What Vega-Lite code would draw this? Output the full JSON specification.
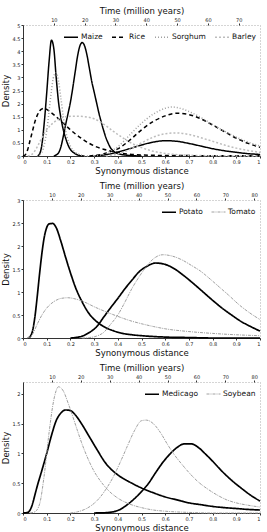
{
  "$schema": "https://vega.github.io/schema/vega-lite/v6.json",
  "padding": {"left": 0, "top": 5, "right": 7, "bottom": 1},
  "background": "white",
  "datasets": {
    "p1": [
      {"s":"Maize","c":1,"x":0.06,"y":0},{"s":"Maize","c":1,"x":0.07,"y":0.08},{"s":"Maize","c":1,"x":0.08,"y":0.45},{"s":"Maize","c":1,"x":0.09,"y":1.3},{"s":"Maize","c":1,"x":0.1,"y":2.4},{"s":"Maize","c":1,"x":0.11,"y":3.6},{"s":"Maize","c":1,"x":0.12,"y":4.42},{"s":"Maize","c":1,"x":0.13,"y":4.1},{"s":"Maize","c":1,"x":0.14,"y":3.0},{"s":"Maize","c":1,"x":0.15,"y":2.05},{"s":"Maize","c":1,"x":0.16,"y":1.45},{"s":"Maize","c":1,"x":0.17,"y":1.0},{"s":"Maize","c":1,"x":0.18,"y":0.68},{"s":"Maize","c":1,"x":0.19,"y":0.42},{"s":"Maize","c":1,"x":0.2,"y":0.25},{"s":"Maize","c":1,"x":0.22,"y":0.09},{"s":"Maize","c":1,"x":0.24,"y":0.02},{"s":"Maize","c":1,"x":0.26,"y":0},
      {"s":"Maize","c":2,"x":0.13,"y":0},{"s":"Maize","c":2,"x":0.14,"y":0.04},{"s":"Maize","c":2,"x":0.15,"y":0.12},{"s":"Maize","c":2,"x":0.16,"y":0.35},{"s":"Maize","c":2,"x":0.17,"y":0.75},{"s":"Maize","c":2,"x":0.18,"y":1.2},{"s":"Maize","c":2,"x":0.19,"y":1.62},{"s":"Maize","c":2,"x":0.2,"y":2.05},{"s":"Maize","c":2,"x":0.21,"y":2.6},{"s":"Maize","c":2,"x":0.22,"y":3.2},{"s":"Maize","c":2,"x":0.23,"y":3.8},{"s":"Maize","c":2,"x":0.24,"y":4.2},{"s":"Maize","c":2,"x":0.25,"y":4.33},{"s":"Maize","c":2,"x":0.26,"y":4.2},{"s":"Maize","c":2,"x":0.27,"y":3.85},{"s":"Maize","c":2,"x":0.28,"y":3.35},{"s":"Maize","c":2,"x":0.29,"y":2.85},{"s":"Maize","c":2,"x":0.3,"y":2.45},{"s":"Maize","c":2,"x":0.31,"y":2.05},{"s":"Maize","c":2,"x":0.32,"y":1.65},{"s":"Maize","c":2,"x":0.33,"y":1.3},{"s":"Maize","c":2,"x":0.34,"y":0.98},{"s":"Maize","c":2,"x":0.35,"y":0.7},{"s":"Maize","c":2,"x":0.36,"y":0.48},{"s":"Maize","c":2,"x":0.37,"y":0.3},{"s":"Maize","c":2,"x":0.38,"y":0.2},{"s":"Maize","c":2,"x":0.39,"y":0.13},{"s":"Maize","c":2,"x":0.4,"y":0.09},{"s":"Maize","c":2,"x":0.42,"y":0.05},{"s":"Maize","c":2,"x":0.45,"y":0.02},{"s":"Maize","c":2,"x":0.5,"y":0},
      {"s":"Maize","c":3,"x":0.3,"y":0},{"s":"Maize","c":3,"x":0.35,"y":0.05},{"s":"Maize","c":3,"x":0.4,"y":0.15},{"s":"Maize","c":3,"x":0.45,"y":0.28},{"s":"Maize","c":3,"x":0.5,"y":0.42},{"s":"Maize","c":3,"x":0.55,"y":0.53},{"s":"Maize","c":3,"x":0.6,"y":0.585},{"s":"Maize","c":3,"x":0.65,"y":0.56},{"s":"Maize","c":3,"x":0.7,"y":0.48},{"s":"Maize","c":3,"x":0.75,"y":0.38},{"s":"Maize","c":3,"x":0.8,"y":0.28},{"s":"Maize","c":3,"x":0.85,"y":0.2},{"s":"Maize","c":3,"x":0.9,"y":0.14},{"s":"Maize","c":3,"x":0.95,"y":0.09},{"s":"Maize","c":3,"x":1,"y":0.06},
      {"s":"Rice","c":1,"x":0,"y":0},{"s":"Rice","c":1,"x":0.01,"y":0.05},{"s":"Rice","c":1,"x":0.02,"y":0.25},{"s":"Rice","c":1,"x":0.03,"y":0.6},{"s":"Rice","c":1,"x":0.04,"y":0.95},{"s":"Rice","c":1,"x":0.05,"y":1.3},{"s":"Rice","c":1,"x":0.06,"y":1.55},{"s":"Rice","c":1,"x":0.07,"y":1.72},{"s":"Rice","c":1,"x":0.08,"y":1.8},{"s":"Rice","c":1,"x":0.09,"y":1.82},{"s":"Rice","c":1,"x":0.1,"y":1.78},{"s":"Rice","c":1,"x":0.12,"y":1.65},{"s":"Rice","c":1,"x":0.14,"y":1.5},{"s":"Rice","c":1,"x":0.16,"y":1.33},{"s":"Rice","c":1,"x":0.18,"y":1.17},{"s":"Rice","c":1,"x":0.2,"y":1.0},{"s":"Rice","c":1,"x":0.22,"y":0.85},{"s":"Rice","c":1,"x":0.25,"y":0.65},{"s":"Rice","c":1,"x":0.28,"y":0.48},{"s":"Rice","c":1,"x":0.31,"y":0.35},{"s":"Rice","c":1,"x":0.34,"y":0.26},{"s":"Rice","c":1,"x":0.37,"y":0.19},{"s":"Rice","c":1,"x":0.4,"y":0.13},{"s":"Rice","c":1,"x":0.45,"y":0.07},{"s":"Rice","c":1,"x":0.5,"y":0.04},{"s":"Rice","c":1,"x":0.6,"y":0.02},{"s":"Rice","c":1,"x":0.7,"y":0.015},{"s":"Rice","c":1,"x":0.8,"y":0.01},{"s":"Rice","c":1,"x":1,"y":0.01},
      {"s":"Rice","c":2,"x":0.28,"y":0},{"s":"Rice","c":2,"x":0.3,"y":0.02},{"s":"Rice","c":2,"x":0.33,"y":0.06},{"s":"Rice","c":2,"x":0.36,"y":0.14},{"s":"Rice","c":2,"x":0.4,"y":0.27},{"s":"Rice","c":2,"x":0.45,"y":0.6},{"s":"Rice","c":2,"x":0.5,"y":1.0},{"s":"Rice","c":2,"x":0.55,"y":1.32},{"s":"Rice","c":2,"x":0.6,"y":1.53},{"s":"Rice","c":2,"x":0.65,"y":1.63},{"s":"Rice","c":2,"x":0.7,"y":1.58},{"s":"Rice","c":2,"x":0.75,"y":1.42},{"s":"Rice","c":2,"x":0.8,"y":1.18},{"s":"Rice","c":2,"x":0.85,"y":0.93},{"s":"Rice","c":2,"x":0.9,"y":0.68},{"s":"Rice","c":2,"x":0.95,"y":0.48},{"s":"Rice","c":2,"x":1,"y":0.33},
      {"s":"Sorghum","c":1,"x":0.06,"y":0},{"s":"Sorghum","c":1,"x":0.08,"y":0.15},{"s":"Sorghum","c":1,"x":0.09,"y":0.45},{"s":"Sorghum","c":1,"x":0.1,"y":0.95},{"s":"Sorghum","c":1,"x":0.11,"y":1.7},{"s":"Sorghum","c":1,"x":0.12,"y":2.5},{"s":"Sorghum","c":1,"x":0.13,"y":3.05},{"s":"Sorghum","c":1,"x":0.14,"y":3.18},{"s":"Sorghum","c":1,"x":0.15,"y":2.85},{"s":"Sorghum","c":1,"x":0.16,"y":2.2},{"s":"Sorghum","c":1,"x":0.17,"y":1.5},{"s":"Sorghum","c":1,"x":0.18,"y":0.95},{"s":"Sorghum","c":1,"x":0.19,"y":0.6},{"s":"Sorghum","c":1,"x":0.2,"y":0.38},{"s":"Sorghum","c":1,"x":0.22,"y":0.14},{"s":"Sorghum","c":1,"x":0.24,"y":0.05},{"s":"Sorghum","c":1,"x":0.26,"y":0.01},{"s":"Sorghum","c":1,"x":0.28,"y":0},
      {"s":"Sorghum","c":2,"x":0.3,"y":0},{"s":"Sorghum","c":2,"x":0.33,"y":0.05},{"s":"Sorghum","c":2,"x":0.36,"y":0.15},{"s":"Sorghum","c":2,"x":0.4,"y":0.35},{"s":"Sorghum","c":2,"x":0.45,"y":0.8},{"s":"Sorghum","c":2,"x":0.5,"y":1.25},{"s":"Sorghum","c":2,"x":0.55,"y":1.6},{"s":"Sorghum","c":2,"x":0.6,"y":1.82},{"s":"Sorghum","c":2,"x":0.63,"y":1.87},{"s":"Sorghum","c":2,"x":0.65,"y":1.85},{"s":"Sorghum","c":2,"x":0.7,"y":1.7},{"s":"Sorghum","c":2,"x":0.75,"y":1.47},{"s":"Sorghum","c":2,"x":0.8,"y":1.2},{"s":"Sorghum","c":2,"x":0.85,"y":0.95},{"s":"Sorghum","c":2,"x":0.9,"y":0.72},{"s":"Sorghum","c":2,"x":0.95,"y":0.53},{"s":"Sorghum","c":2,"x":1,"y":0.38},
      {"s":"Barley","c":1,"x":0.02,"y":0},{"s":"Barley","c":1,"x":0.04,"y":0.08},{"s":"Barley","c":1,"x":0.06,"y":0.35},{"s":"Barley","c":1,"x":0.08,"y":0.7},{"s":"Barley","c":1,"x":0.1,"y":1.0},{"s":"Barley","c":1,"x":0.12,"y":1.2},{"s":"Barley","c":1,"x":0.15,"y":1.4},{"s":"Barley","c":1,"x":0.18,"y":1.5},{"s":"Barley","c":1,"x":0.22,"y":1.52},{"s":"Barley","c":1,"x":0.26,"y":1.5},{"s":"Barley","c":1,"x":0.3,"y":1.42},{"s":"Barley","c":1,"x":0.34,"y":1.22},{"s":"Barley","c":1,"x":0.38,"y":0.95},{"s":"Barley","c":1,"x":0.42,"y":0.7},{"s":"Barley","c":1,"x":0.46,"y":0.48},{"s":"Barley","c":1,"x":0.5,"y":0.32},{"s":"Barley","c":1,"x":0.55,"y":0.18},{"s":"Barley","c":1,"x":0.6,"y":0.1},{"s":"Barley","c":1,"x":0.7,"y":0.03},{"s":"Barley","c":1,"x":0.8,"y":0.01},{"s":"Barley","c":1,"x":1,"y":0},
      {"s":"Barley","c":2,"x":0.35,"y":0},{"s":"Barley","c":2,"x":0.4,"y":0.08},{"s":"Barley","c":2,"x":0.45,"y":0.25},{"s":"Barley","c":2,"x":0.5,"y":0.5},{"s":"Barley","c":2,"x":0.55,"y":0.72},{"s":"Barley","c":2,"x":0.6,"y":0.85},{"s":"Barley","c":2,"x":0.65,"y":0.88},{"s":"Barley","c":2,"x":0.7,"y":0.82},{"s":"Barley","c":2,"x":0.75,"y":0.7},{"s":"Barley","c":2,"x":0.8,"y":0.56},{"s":"Barley","c":2,"x":0.85,"y":0.42},{"s":"Barley","c":2,"x":0.9,"y":0.3},{"s":"Barley","c":2,"x":0.95,"y":0.21},{"s":"Barley","c":2,"x":1,"y":0.14}
    ],
    "p2": [
      {"s":"Potato","c":1,"x":0.02,"y":0},{"s":"Potato","c":1,"x":0.03,"y":0.03},{"s":"Potato","c":1,"x":0.04,"y":0.15},{"s":"Potato","c":1,"x":0.05,"y":0.45},{"s":"Potato","c":1,"x":0.06,"y":0.9},{"s":"Potato","c":1,"x":0.07,"y":1.4},{"s":"Potato","c":1,"x":0.08,"y":1.85},{"s":"Potato","c":1,"x":0.09,"y":2.2},{"s":"Potato","c":1,"x":0.1,"y":2.4},{"s":"Potato","c":1,"x":0.11,"y":2.48},{"s":"Potato","c":1,"x":0.125,"y":2.49},{"s":"Potato","c":1,"x":0.14,"y":2.4},{"s":"Potato","c":1,"x":0.16,"y":2.1},{"s":"Potato","c":1,"x":0.18,"y":1.75},{"s":"Potato","c":1,"x":0.2,"y":1.42},{"s":"Potato","c":1,"x":0.22,"y":1.12},{"s":"Potato","c":1,"x":0.25,"y":0.78},{"s":"Potato","c":1,"x":0.28,"y":0.52},{"s":"Potato","c":1,"x":0.31,"y":0.36},{"s":"Potato","c":1,"x":0.34,"y":0.25},{"s":"Potato","c":1,"x":0.38,"y":0.16},{"s":"Potato","c":1,"x":0.42,"y":0.1},{"s":"Potato","c":1,"x":0.46,"y":0.07},{"s":"Potato","c":1,"x":0.5,"y":0.05},{"s":"Potato","c":1,"x":0.6,"y":0.02},{"s":"Potato","c":1,"x":0.7,"y":0.01},{"s":"Potato","c":1,"x":0.8,"y":0},{"s":"Potato","c":1,"x":1,"y":0},
      {"s":"Potato","c":2,"x":0.2,"y":0},{"s":"Potato","c":2,"x":0.22,"y":0.01},{"s":"Potato","c":2,"x":0.25,"y":0.04},{"s":"Potato","c":2,"x":0.28,"y":0.12},{"s":"Potato","c":2,"x":0.31,"y":0.24},{"s":"Potato","c":2,"x":0.34,"y":0.45},{"s":"Potato","c":2,"x":0.37,"y":0.66},{"s":"Potato","c":2,"x":0.4,"y":0.86},{"s":"Potato","c":2,"x":0.43,"y":1.07},{"s":"Potato","c":2,"x":0.46,"y":1.26},{"s":"Potato","c":2,"x":0.49,"y":1.44},{"s":"Potato","c":2,"x":0.52,"y":1.55},{"s":"Potato","c":2,"x":0.56,"y":1.63},{"s":"Potato","c":2,"x":0.6,"y":1.6},{"s":"Potato","c":2,"x":0.64,"y":1.5},{"s":"Potato","c":2,"x":0.68,"y":1.35},{"s":"Potato","c":2,"x":0.72,"y":1.18},{"s":"Potato","c":2,"x":0.76,"y":1.0},{"s":"Potato","c":2,"x":0.8,"y":0.82},{"s":"Potato","c":2,"x":0.84,"y":0.65},{"s":"Potato","c":2,"x":0.88,"y":0.5},{"s":"Potato","c":2,"x":0.92,"y":0.36},{"s":"Potato","c":2,"x":0.96,"y":0.25},{"s":"Potato","c":2,"x":1,"y":0.15},
      {"s":"Tomato","c":1,"x":0.02,"y":0},{"s":"Tomato","c":1,"x":0.04,"y":0.08},{"s":"Tomato","c":1,"x":0.06,"y":0.3},{"s":"Tomato","c":1,"x":0.08,"y":0.5},{"s":"Tomato","c":1,"x":0.1,"y":0.65},{"s":"Tomato","c":1,"x":0.13,"y":0.79},{"s":"Tomato","c":1,"x":0.16,"y":0.86},{"s":"Tomato","c":1,"x":0.19,"y":0.875},{"s":"Tomato","c":1,"x":0.22,"y":0.85},{"s":"Tomato","c":1,"x":0.26,"y":0.78},{"s":"Tomato","c":1,"x":0.3,"y":0.68},{"s":"Tomato","c":1,"x":0.35,"y":0.57},{"s":"Tomato","c":1,"x":0.4,"y":0.47},{"s":"Tomato","c":1,"x":0.45,"y":0.38},{"s":"Tomato","c":1,"x":0.5,"y":0.31},{"s":"Tomato","c":1,"x":0.55,"y":0.25},{"s":"Tomato","c":1,"x":0.6,"y":0.2},{"s":"Tomato","c":1,"x":0.7,"y":0.14},{"s":"Tomato","c":1,"x":0.8,"y":0.1},{"s":"Tomato","c":1,"x":0.9,"y":0.07},{"s":"Tomato","c":1,"x":1,"y":0.05},
      {"s":"Tomato","c":2,"x":0.25,"y":0},{"s":"Tomato","c":2,"x":0.28,"y":0.01},{"s":"Tomato","c":2,"x":0.31,"y":0.04},{"s":"Tomato","c":2,"x":0.34,"y":0.12},{"s":"Tomato","c":2,"x":0.37,"y":0.3},{"s":"Tomato","c":2,"x":0.4,"y":0.5},{"s":"Tomato","c":2,"x":0.43,"y":0.78},{"s":"Tomato","c":2,"x":0.46,"y":1.08},{"s":"Tomato","c":2,"x":0.49,"y":1.33},{"s":"Tomato","c":2,"x":0.52,"y":1.55},{"s":"Tomato","c":2,"x":0.55,"y":1.72},{"s":"Tomato","c":2,"x":0.59,"y":1.81},{"s":"Tomato","c":2,"x":0.63,"y":1.78},{"s":"Tomato","c":2,"x":0.67,"y":1.7},{"s":"Tomato","c":2,"x":0.71,"y":1.58},{"s":"Tomato","c":2,"x":0.75,"y":1.45},{"s":"Tomato","c":2,"x":0.79,"y":1.28},{"s":"Tomato","c":2,"x":0.83,"y":1.1},{"s":"Tomato","c":2,"x":0.87,"y":0.92},{"s":"Tomato","c":2,"x":0.91,"y":0.73},{"s":"Tomato","c":2,"x":0.95,"y":0.57},{"s":"Tomato","c":2,"x":1,"y":0.4}
    ],
    "p3": [
      {"s":"Medicago","c":1,"x":0,"y":0},{"s":"Medicago","c":1,"x":0.02,"y":0.01},{"s":"Medicago","c":1,"x":0.03,"y":0.05},{"s":"Medicago","c":1,"x":0.04,"y":0.15},{"s":"Medicago","c":1,"x":0.05,"y":0.3},{"s":"Medicago","c":1,"x":0.06,"y":0.45},{"s":"Medicago","c":1,"x":0.08,"y":0.72},{"s":"Medicago","c":1,"x":0.1,"y":1.0},{"s":"Medicago","c":1,"x":0.12,"y":1.3},{"s":"Medicago","c":1,"x":0.14,"y":1.55},{"s":"Medicago","c":1,"x":0.16,"y":1.68},{"s":"Medicago","c":1,"x":0.18,"y":1.73},{"s":"Medicago","c":1,"x":0.2,"y":1.72},{"s":"Medicago","c":1,"x":0.22,"y":1.65},{"s":"Medicago","c":1,"x":0.25,"y":1.48},{"s":"Medicago","c":1,"x":0.28,"y":1.28},{"s":"Medicago","c":1,"x":0.31,"y":1.08},{"s":"Medicago","c":1,"x":0.35,"y":0.83},{"s":"Medicago","c":1,"x":0.4,"y":0.64},{"s":"Medicago","c":1,"x":0.45,"y":0.52},{"s":"Medicago","c":1,"x":0.5,"y":0.42},{"s":"Medicago","c":1,"x":0.55,"y":0.34},{"s":"Medicago","c":1,"x":0.6,"y":0.27},{"s":"Medicago","c":1,"x":0.65,"y":0.22},{"s":"Medicago","c":1,"x":0.7,"y":0.17},{"s":"Medicago","c":1,"x":0.75,"y":0.14},{"s":"Medicago","c":1,"x":0.8,"y":0.11},{"s":"Medicago","c":1,"x":0.85,"y":0.09},{"s":"Medicago","c":1,"x":0.9,"y":0.075},{"s":"Medicago","c":1,"x":0.95,"y":0.06},{"s":"Medicago","c":1,"x":1,"y":0.05},
      {"s":"Medicago","c":2,"x":0.3,"y":0},{"s":"Medicago","c":2,"x":0.35,"y":0.005},{"s":"Medicago","c":2,"x":0.38,"y":0.02},{"s":"Medicago","c":2,"x":0.41,"y":0.06},{"s":"Medicago","c":2,"x":0.44,"y":0.14},{"s":"Medicago","c":2,"x":0.47,"y":0.24},{"s":"Medicago","c":2,"x":0.5,"y":0.36},{"s":"Medicago","c":2,"x":0.53,"y":0.5},{"s":"Medicago","c":2,"x":0.56,"y":0.68},{"s":"Medicago","c":2,"x":0.59,"y":0.85},{"s":"Medicago","c":2,"x":0.62,"y":0.99},{"s":"Medicago","c":2,"x":0.65,"y":1.1},{"s":"Medicago","c":2,"x":0.68,"y":1.16},{"s":"Medicago","c":2,"x":0.71,"y":1.16},{"s":"Medicago","c":2,"x":0.74,"y":1.1},{"s":"Medicago","c":2,"x":0.77,"y":0.99},{"s":"Medicago","c":2,"x":0.8,"y":0.87},{"s":"Medicago","c":2,"x":0.84,"y":0.7},{"s":"Medicago","c":2,"x":0.88,"y":0.55},{"s":"Medicago","c":2,"x":0.92,"y":0.42},{"s":"Medicago","c":2,"x":0.96,"y":0.3},{"s":"Medicago","c":2,"x":1,"y":0.2},
      {"s":"Soybean","c":1,"x":0.03,"y":0},{"s":"Soybean","c":1,"x":0.05,"y":0.02},{"s":"Soybean","c":1,"x":0.07,"y":0.15},{"s":"Soybean","c":1,"x":0.09,"y":0.65},{"s":"Soybean","c":1,"x":0.11,"y":1.35},{"s":"Soybean","c":1,"x":0.13,"y":1.9},{"s":"Soybean","c":1,"x":0.15,"y":2.12},{"s":"Soybean","c":1,"x":0.17,"y":2.05},{"s":"Soybean","c":1,"x":0.19,"y":1.85},{"s":"Soybean","c":1,"x":0.21,"y":1.62},{"s":"Soybean","c":1,"x":0.23,"y":1.38},{"s":"Soybean","c":1,"x":0.25,"y":1.15},{"s":"Soybean","c":1,"x":0.27,"y":0.95},{"s":"Soybean","c":1,"x":0.3,"y":0.7},{"s":"Soybean","c":1,"x":0.33,"y":0.52},{"s":"Soybean","c":1,"x":0.36,"y":0.38},{"s":"Soybean","c":1,"x":0.4,"y":0.25},{"s":"Soybean","c":1,"x":0.45,"y":0.15},{"s":"Soybean","c":1,"x":0.5,"y":0.09},{"s":"Soybean","c":1,"x":0.55,"y":0.05},{"s":"Soybean","c":1,"x":0.6,"y":0.03},{"s":"Soybean","c":1,"x":0.7,"y":0.01},{"s":"Soybean","c":1,"x":0.8,"y":0},{"s":"Soybean","c":1,"x":1,"y":0},
      {"s":"Soybean","c":2,"x":0.2,"y":0},{"s":"Soybean","c":2,"x":0.23,"y":0.02},{"s":"Soybean","c":2,"x":0.26,"y":0.06},{"s":"Soybean","c":2,"x":0.29,"y":0.13},{"s":"Soybean","c":2,"x":0.32,"y":0.24},{"s":"Soybean","c":2,"x":0.35,"y":0.4},{"s":"Soybean","c":2,"x":0.38,"y":0.6},{"s":"Soybean","c":2,"x":0.41,"y":0.85},{"s":"Soybean","c":2,"x":0.44,"y":1.12},{"s":"Soybean","c":2,"x":0.47,"y":1.38},{"s":"Soybean","c":2,"x":0.5,"y":1.55},{"s":"Soybean","c":2,"x":0.52,"y":1.56},{"s":"Soybean","c":2,"x":0.55,"y":1.5},{"s":"Soybean","c":2,"x":0.58,"y":1.35},{"s":"Soybean","c":2,"x":0.61,"y":1.15},{"s":"Soybean","c":2,"x":0.64,"y":0.97},{"s":"Soybean","c":2,"x":0.67,"y":0.82},{"s":"Soybean","c":2,"x":0.7,"y":0.68},{"s":"Soybean","c":2,"x":0.74,"y":0.52},{"s":"Soybean","c":2,"x":0.78,"y":0.4},{"s":"Soybean","c":2,"x":0.82,"y":0.3},{"s":"Soybean","c":2,"x":0.86,"y":0.22},{"s":"Soybean","c":2,"x":0.9,"y":0.17},{"s":"Soybean","c":2,"x":0.95,"y":0.13},{"s":"Soybean","c":2,"x":1,"y":0.1}
    ],
    "t1": [{"t":0},{"t":76.9}],
    "t2": [{"t":0},{"t":82}],
    "t3": [{"t":0},{"t":82}]
  },
  "vconcat": [
    {
      "width": 237, "height": 131,
      "resolve": {"scale": {"x": "independent"}},
      "layer": [
        {
          "data": {"name": "p1"},
          "mark": {"type": "line", "interpolate": "monotone"},
          "encoding": {
            "x": {"field": "x", "type": "quantitative", "scale": {"domain": [0, 1], "nice": false}, "axis": {"orient": "bottom", "title": "Synonymous distance", "values": [0,0.1,0.2,0.3,0.4,0.5,0.6,0.7,0.8,0.9,1], "format": "~g"}},
            "y": {"field": "y", "type": "quantitative", "scale": {"domain": [0, 5], "nice": false}, "axis": {"title": "Density", "values": [0,0.5,1,1.5,2,2.5,3,3.5,4,4.5,5], "format": "~g"}},
            "color": {"field": "s", "type": "nominal", "scale": {"domain": ["Maize","Rice","Sorghum","Barley"], "range": ["#000000","#000000","#a0a0a0","#bdbdbd"]}, "legend": {"title": null, "orient": "top-right", "direction": "horizontal", "offset": 4}},
            "strokeDash": {"field": "s", "type": "nominal", "scale": {"domain": ["Maize","Rice","Sorghum","Barley"], "range": [[1,0],[4,3],[1,2],[2,2]]}, "legend": {"title": null, "orient": "top-right", "direction": "horizontal", "offset": 4}},
            "strokeWidth": {"field": "s", "type": "nominal", "scale": {"domain": ["Maize","Rice","Sorghum","Barley"], "range": [1.5,1.5,1,1]}, "legend": null},
            "detail": {"field": "c", "type": "nominal"}
          }
        },
        {
          "data": {"name": "t1"},
          "mark": {"type": "rule", "opacity": 0},
          "encoding": {
            "x": {"field": "t", "type": "quantitative", "scale": {"domain": [0, 76.9], "nice": false, "zero": false}, "axis": {"orient": "top", "title": "Time (million years)", "values": [10,20,30,40,50,60,70], "domain": false}}
          }
        }
      ]
    },
    {
      "width": 237, "height": 138,
      "resolve": {"scale": {"x": "independent"}},
      "layer": [
        {
          "data": {"name": "p2"},
          "mark": {"type": "line", "interpolate": "monotone"},
          "encoding": {
            "x": {"field": "x", "type": "quantitative", "scale": {"domain": [0, 1], "nice": false}, "axis": {"orient": "bottom", "title": "Synonymous distance", "values": [0,0.1,0.2,0.3,0.4,0.5,0.6,0.7,0.8,0.9,1], "format": "~g"}},
            "y": {"field": "y", "type": "quantitative", "scale": {"domain": [0, 3], "nice": false}, "axis": {"title": "Density", "values": [0,0.5,1,1.5,2,2.5,3], "format": "~g"}},
            "color": {"field": "s", "type": "nominal", "scale": {"domain": ["Potato","Tomato"], "range": ["#000000","#a0a0a0"]}, "legend": {"title": null, "orient": "top-right", "direction": "horizontal", "offset": 4}},
            "strokeDash": {"field": "s", "type": "nominal", "scale": {"domain": ["Potato","Tomato"], "range": [[1,0],[3,1,1,1]]}, "legend": {"title": null, "orient": "top-right", "direction": "horizontal", "offset": 4}},
            "strokeWidth": {"field": "s", "type": "nominal", "scale": {"domain": ["Potato","Tomato"], "range": [1.7,1]}, "legend": null},
            "detail": {"field": "c", "type": "nominal"}
          }
        },
        {
          "data": {"name": "t2"},
          "mark": {"type": "rule", "opacity": 0},
          "encoding": {
            "x": {"field": "t", "type": "quantitative", "scale": {"domain": [0, 82], "nice": false, "zero": false}, "axis": {"orient": "top", "title": "Time (million years)", "values": [10,20,30,40,50,60,70,80], "domain": false}}
          }
        }
      ]
    },
    {
      "width": 237, "height": 131,
      "resolve": {"scale": {"x": "independent"}},
      "layer": [
        {
          "data": {"name": "p3"},
          "mark": {"type": "line", "interpolate": "monotone"},
          "encoding": {
            "x": {"field": "x", "type": "quantitative", "scale": {"domain": [0, 1], "nice": false}, "axis": {"orient": "bottom", "title": "Synonymous distance", "values": [0,0.1,0.2,0.3,0.4,0.5,0.6,0.7,0.8,0.9,1], "format": "~g"}},
            "y": {"field": "y", "type": "quantitative", "scale": {"domain": [0, 2.2], "nice": false}, "axis": {"title": "Density", "values": [0,0.5,1,1.5,2], "format": "~g"}},
            "color": {"field": "s", "type": "nominal", "scale": {"domain": ["Medicago","Soybean"], "range": ["#000000","#a0a0a0"]}, "legend": {"title": null, "orient": "top-right", "direction": "horizontal", "offset": 4}},
            "strokeDash": {"field": "s", "type": "nominal", "scale": {"domain": ["Medicago","Soybean"], "range": [[1,0],[3,1,1,1]]}, "legend": {"title": null, "orient": "top-right", "direction": "horizontal", "offset": 4}},
            "strokeWidth": {"field": "s", "type": "nominal", "scale": {"domain": ["Medicago","Soybean"], "range": [1.7,1]}, "legend": null},
            "detail": {"field": "c", "type": "nominal"}
          }
        },
        {
          "data": {"name": "t3"},
          "mark": {"type": "rule", "opacity": 0},
          "encoding": {
            "x": {"field": "t", "type": "quantitative", "scale": {"domain": [0, 82], "nice": false, "zero": false}, "axis": {"orient": "top", "title": "Time (million years)", "values": [10,20,30,40,50,60,70,80], "domain": false}}
          }
        }
      ]
    }
  ],
  "resolve": {"scale": {"x": "independent", "y": "independent", "color": "independent", "strokeDash": "independent", "strokeWidth": "independent"}},
  "spacing": 5,
  "config": {
    "font": "DejaVu Sans",
    "view": {"stroke": "#aaaaaa", "strokeDash": [1, 2]},
    "axis": {"grid": false, "labelFontSize": 5, "titleFontSize": 8.5, "titleFontWeight": "normal", "tickSize": 2, "labelPadding": 1, "titlePadding": 2, "domainColor": "#333333", "tickColor": "#333333", "labelColor": "#222222", "titleColor": "#111111"},
    "legend": {"labelFontSize": 7.5, "symbolType": "stroke", "symbolSize": 196, "symbolStrokeWidth": 1.5, "columnPadding": 6, "labelOffset": 2, "padding": 0, "labelColor": "#111111"}
  }
}
